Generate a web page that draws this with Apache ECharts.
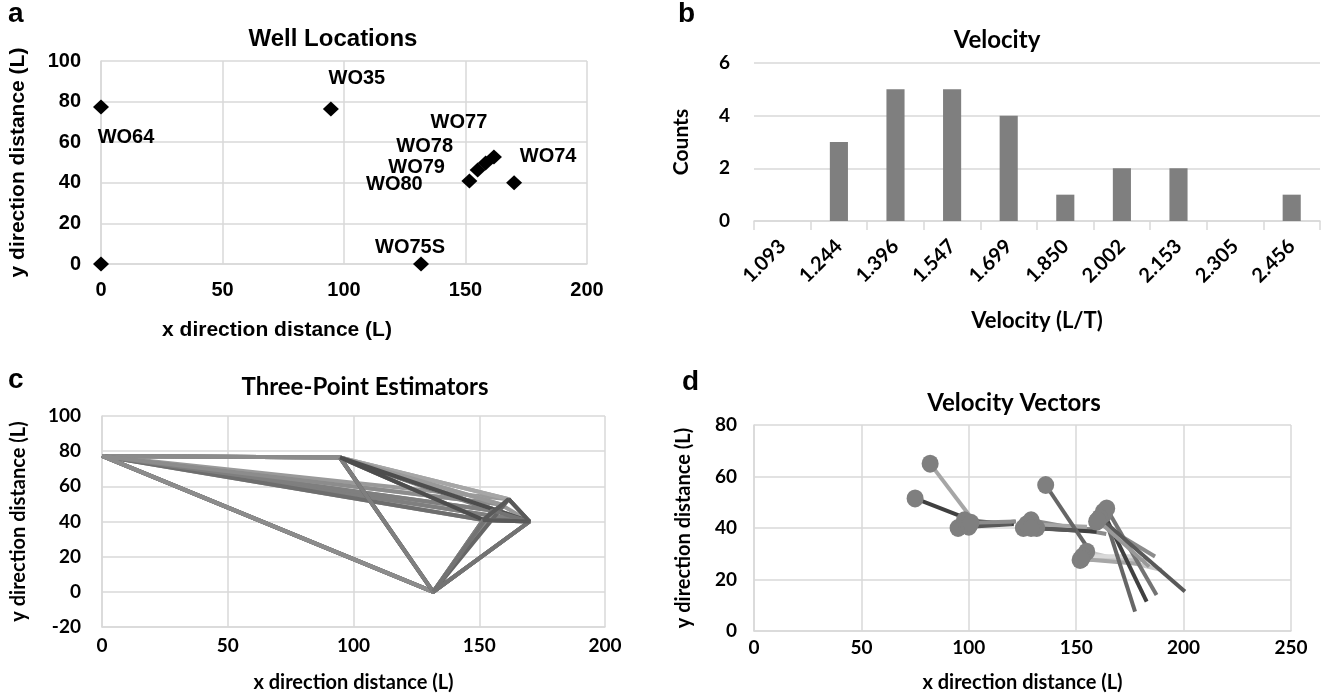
<!DOCTYPE html>
<html>
<head>
<meta charset="utf-8">
<script src="https://cdn.jsdelivr.net/npm/echarts@6/dist/echarts.min.js"></script>
<style>
  html, body { margin: 0; padding: 0; background: #fff; }
  #main { width: 1328px; height: 697px; }
</style>
</head>
<body>
<div id="main"></div>
<script>
// a - well locations
const wellNames = ['WO64', 'WO35', 'WO77', 'WO78', 'WO79', 'WO80', 'WO74', 'WO75S', ''];
const wellX = [0, 94.6, 161.7, 158.3, 155, 151.6, 170, 131.7, 0];
const wellY = [77.3, 76.4, 52.7, 49.8, 46.3, 40.9, 40, 0, 0];

// b - velocity histogram
const velBins = ['1.093', '1.244', '1.396', '1.547', '1.699', '1.850', '2.002', '2.153', '2.305', '2.456'];
const velCounts = [0, 3, 5, 5, 4, 1, 2, 2, 0, 1];

// c - three point estimators (wells of each triangle)
const triangles = [
  ['WO64', 'WO35', 'WO75S'],
  ['WO64', 'WO35', 'WO74'],
  ['WO64', 'WO35', 'WO77'],
  ['WO64', 'WO35', 'WO78'],
  ['WO64', 'WO35', 'WO79'],
  ['WO64', 'WO35', 'WO80'],
  ['WO64', 'WO75S', 'WO74'],
  ['WO64', 'WO75S', 'WO80'],
  ['WO64', 'WO75S', 'WO79'],
  ['WO64', 'WO75S', 'WO78'],
  ['WO35', 'WO75S', 'WO74'],
  ['WO35', 'WO75S', 'WO80'],
  ['WO35', 'WO77', 'WO74'],
  ['WO35', 'WO78', 'WO74'],
  ['WO35', 'WO80', 'WO74'],
  ['WO75S', 'WO77', 'WO74'],
  ['WO75S', 'WO80', 'WO74'],
  ['WO75S', 'WO79', 'WO74'],
  ['WO77', 'WO80', 'WO74']
];

// d - velocity vectors (start -> end)
const vecX0 = [75, 82, 95, 98, 100, 101, 125.4, 129, 131.6, 127, 135.8, 151.8, 154.9, 153, 152.5, 159.5, 162.6, 163, 164.2, 161, 160, 129];
const vecY0 = [51.5, 65, 40, 43, 40.5, 42, 40, 43, 40, 41.5, 56.7, 27.6, 30.8, 29, 28, 42.5, 46.3, 45.5, 47.6, 44, 43, 40];
const vecX1 = [96.5, 102, 121.5, 121, 120, 122, 159.5, 164, 159.5, 155, 155.6, 182.8, 189.8, 178, 180, 186.7, 177.4, 182.8, 187.4, 200.6, 184, 150];
const vecY1 = [44.5, 43, 42.5, 41.5, 41.5, 42.5, 39.5, 37.7, 38.5, 40.5, 32, 27.6, 23.7, 29, 26, 28.9, 7.5, 11.4, 14, 15.3, 25, 39];

const triColors = ['#404040', '#8c8c8c', '#9a9a9a', '#a6a6a6', '#7f7f7f', '#8c8c8c', '#7f7f7f', '#6e6e6e', '#7f7f7f', '#8c8c8c',
  '#595959', '#7f7f7f', '#a6a6a6', '#999999', '#4d4d4d', '#666666', '#7f7f7f', '#737373', '#595959'];
const vecColors = ['#404040', '#a6a6a6', '#7f7f7f', '#404040', '#595959', '#8c8c8c', '#7f7f7f', '#8c8c8c', '#404040', '#a6a6a6',
  '#666666', '#bfbfbf', '#c8c8c8', '#d9d9d9', '#a6a6a6', '#8c8c8c', '#666666', '#404040', '#737373', '#595959', '#999999', '#595959'];
const labelOffsets = [[25, 30], [26, -30], [-35, -35], [-61, -16], [-61, -3], [-75, 4], [34, -26], [-11, -17], [0, 0]];

const arial = 'Liberation Sans, Arial, sans-serif';
const cal = 'Lato, Open Sans, sans-serif';
const gridGray = '#d9d9d9';

function valueAxis(grid, min, max, step, name, gap, font, size, margin) {
  return {
    type: 'value', gridIndex: grid, min: min, max: max, interval: step,
    name: name, nameLocation: 'middle', nameGap: gap,
    nameTextStyle: { fontFamily: font, fontWeight: 'bold', fontSize: size + 1, color: '#000' },
    axisLine: { show: true, onZero: false, lineStyle: { color: gridGray, width: 1.5 } },
    axisTick: { show: false },
    axisLabel: { fontFamily: font, fontWeight: 'bold', fontSize: size, color: '#000', margin: margin },
    splitLine: { show: true, lineStyle: { color: gridGray, width: 1.5 } }
  };
}

const chart = echarts.init(document.getElementById('main'));

const series = [];

// a
series.push({
  type: 'scatter', xAxisIndex: 0, yAxisIndex: 0,
  symbol: 'diamond', symbolSize: [16, 15],
  itemStyle: { color: '#000', opacity: 1 },
  data: wellNames.map((n, i) => ({
    value: [wellX[i], wellY[i]],
    label: {
      show: n !== '', formatter: n, position: 'inside', offset: labelOffsets[i],
      fontFamily: arial, fontWeight: 'bold', fontSize: 20, color: '#000', textBorderWidth: 0
    }
  }))
});

// b
series.push({
  type: 'bar', xAxisIndex: 1, yAxisIndex: 1,
  barWidth: '32%', itemStyle: { color: '#7f7f7f' },
  data: velCounts
});

// c
triangles.forEach((tri, t) => {
  const pts = tri.concat([tri[0]]).map(n => {
    const i = wellNames.indexOf(n);
    return [wellX[i], wellY[i]];
  });
  series.push({
    type: 'line', xAxisIndex: 2, yAxisIndex: 2,
    showSymbol: false, symbol: 'none',
    lineStyle: { color: triColors[t], width: 4 },
    data: pts
  });
});

// d
vecX0.forEach((x0, v) => {
  series.push({
    type: 'line', xAxisIndex: 3, yAxisIndex: 3,
    lineStyle: { color: vecColors[v], width: 4 },
    itemStyle: { color: '#7f7f7f' },
    data: [
      { value: [x0, vecY0[v]], symbol: 'circle', symbolSize: [17, 18] },
      { value: [vecX1[v], vecY1[v]], symbol: 'none' }
    ]
  });
});

const option = {
  backgroundColor: '#fff',
  animation: false,
  title: [
    { text: 'Well Locations', left: 333, top: 27, textAlign: 'center', padding: 0,
      textStyle: { fontFamily: arial, fontWeight: 'bold', fontSize: 24, color: '#000' } },
    { text: 'Velocity', left: 997, top: 28, textAlign: 'center', padding: 0,
      textStyle: { fontFamily: cal, fontWeight: 'bold', fontSize: 24, color: '#000' } },
    { text: 'Three-Point Estimators', left: 365, top: 375, textAlign: 'center', padding: 0,
      textStyle: { fontFamily: cal, fontWeight: 'bold', fontSize: 24, color: '#000' } },
    { text: 'Velocity Vectors', left: 1014, top: 391, textAlign: 'center', padding: 0,
      textStyle: { fontFamily: cal, fontWeight: 'bold', fontSize: 24, color: '#000' } },
    { text: 'a', left: 8, top: 0, padding: 0, textStyle: { fontFamily: arial, fontWeight: 'bold', fontSize: 28, color: '#000' } },
    { text: 'b', left: 678, top: 0, padding: 0, textStyle: { fontFamily: arial, fontWeight: 'bold', fontSize: 28, color: '#000' } },
    { text: 'c', left: 8, top: 366, padding: 0, textStyle: { fontFamily: arial, fontWeight: 'bold', fontSize: 28, color: '#000' } },
    { text: 'd', left: 682, top: 368, padding: 0, textStyle: { fontFamily: arial, fontWeight: 'bold', fontSize: 28, color: '#000' } }
  ],
  grid: [
    { left: 101, top: 61, width: 486, height: 203 },
    { left: 754, top: 63, width: 566, height: 158 },
    { left: 102, top: 416, width: 503, height: 211 },
    { left: 754, top: 425, width: 537, height: 206 }
  ],
  xAxis: [
    Object.assign(valueAxis(0, 0, 200, 50, 'x direction distance (L)', 56, arial, 20, 16), {
      nameTextStyle: { fontFamily: arial, fontWeight: 'bold', fontSize: 21, color: '#000', padding: [0, 134, 0, 0] }
    }),
    {
      type: 'category', gridIndex: 1, data: velBins,
      name: 'Velocity (L/T)', nameLocation: 'middle', nameGap: 89,
      nameTextStyle: { fontFamily: cal, fontWeight: 'bold', fontSize: 22, color: '#000' },
      axisLine: { lineStyle: { color: gridGray, width: 1.5 } },
      axisTick: { show: true, length: 9, lineStyle: { color: gridGray, width: 1.5 } },
      axisLabel: { rotate: 45, interval: 0, margin: 22, fontFamily: cal, fontWeight: 'bold', fontSize: 20, color: '#000' },
      splitLine: { show: false }
    },
    valueAxis(2, 0, 200, 50, 'x direction distance (L)', 46, cal, 19, 9),
    valueAxis(3, 0, 250, 50, 'x direction distance (L)', 42, cal, 19, 7)
  ],
  yAxis: [
    valueAxis(0, 0, 100, 20, 'y direction distance (L)', 72, arial, 20, 20),
    {
      type: 'value', gridIndex: 1, min: 0, max: 6, interval: 2,
      name: 'Counts', nameLocation: 'middle', nameGap: 62,
      nameTextStyle: { fontFamily: cal, fontWeight: 'bold', fontSize: 21, color: '#000' },
      axisLine: { show: false }, axisTick: { show: false },
      axisLabel: { fontFamily: cal, fontWeight: 'bold', fontSize: 19, color: '#000', margin: 24 },
      splitLine: { lineStyle: { color: gridGray, width: 1.5 } }
    },
    valueAxis(2, -20, 100, 20, 'y direction distance (L)', 73, cal, 19, 21),
    valueAxis(3, 0, 80, 20, 'y direction distance (L)', 60, cal, 19, 17)
  ],
  series: series
};

chart.setOption(option);
</script>
</body>
</html>
